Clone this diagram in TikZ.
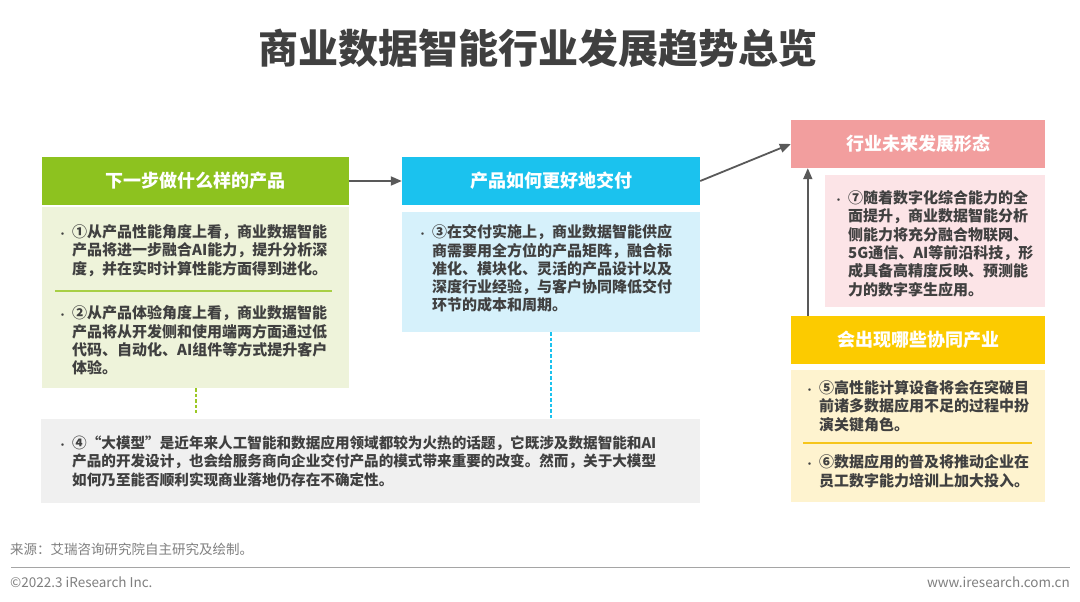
\documentclass[tikz,border=0pt]{standalone}
\usepackage{fontspec}
\setmainfont{Noto Sans CJK SC}
\usetikzlibrary{arrows.meta}
\definecolor{txt}{HTML}{404040}
\definecolor{grnH}{HTML}{8DC21F}
\definecolor{grnB}{HTML}{EEF3DA}
\definecolor{grnL}{HTML}{A8CF45}
\definecolor{grnD}{HTML}{9CC825}
\definecolor{cyaH}{HTML}{1BC2EE}
\definecolor{cyaB}{HTML}{D6F1FB}
\definecolor{pnkH}{HTML}{F29E9E}
\definecolor{pnkB}{HTML}{FCE4E7}
\definecolor{ylwH}{HTML}{FCCB00}
\definecolor{ylwB}{HTML}{FEF3CF}
\definecolor{ylwL}{HTML}{F6C51A}
\definecolor{gryB}{HTML}{F0F0F0}
\definecolor{arrC}{HTML}{595959}
\definecolor{ftC}{HTML}{7F7F7F}
\newcommand\bul{\makebox[0pt][r]{{\fontsize{9}{9}\selectfont •}\hspace{5pt}}}
\begin{document}
\begin{tikzpicture}[x=1pt,y=-1pt,
  hdr/.style={draw=none,inner sep=0pt,font=\fontsize{18}{18}\selectfont\bfseries,text=white},
  bodybox/.style={draw=none,inner sep=0pt},
  bodytext/.style={anchor=north west,inner sep=0pt,align=left,text=txt,font=\fontsize{15}{18.3}\selectfont\bfseries},
  arr/.style={draw=arrC,line width=1.8pt,-{Triangle[length=11pt,width=9pt]}},
  foot/.style={inner sep=0pt,text=ftC,font=\fontsize{13.5}{13.5}\selectfont}]
\useasboundingbox (0,0) rectangle (1080,602);
\fill[white] (0,0) rectangle (1080,602);
% title
\node[inner sep=0pt,text=txt,font=\fontsize{40}{40}\selectfont\bfseries] (title) at (538,48) {商业数据智能行业发展趋势总览};
% box 1
\node[hdr,fill=grnH,minimum width=307pt,minimum height=48pt] (h1) at (195.5,181) {下一步做什么样的产品};
\node[bodybox,fill=grnB,minimum width=307pt,minimum height=181pt] (b1) at (195.5,297.5) {};
\node[bodytext] (t1a) at (72,224.5) {\bul ①从产品性能角度上看，商业数据智能\\产品将进一步融合AI能力，提升分析深\\度，并在实时计算性能方面得到进化。};
\draw[grnL,line width=1.3pt] (55,291) -- (332,291);
\node[bodytext] (t1b) at (72,305.5) {\bul ②从产品体验角度上看，商业数据智能\\产品将从开发侧和使用端两方面通过低\\代码、自动化、AI组件等方式提升客户\\体验。};
% box 2
\node[hdr,fill=cyaH,minimum width=298pt,minimum height=48pt] (h2) at (551,181) {产品如何更好地交付};
\node[bodybox,fill=cyaB,minimum width=298pt,minimum height=120pt] (b2) at (551,272) {};
\node[bodytext] (t2) at (432,224.5) {\bul ③在交付实施上，商业数据智能供应\\商需要用全方位的产品矩阵，融合标\\准化、模块化、灵活的产品设计以及\\深度行业经验，与客户协同降低交付\\环节的成本和周期。};
% pink
\node[hdr,fill=pnkH,minimum width=254pt,minimum height=48pt] (h3) at (918,144) {行业未来发展形态};
\node[bodybox,fill=pnkB,minimum width=220pt,minimum height=132pt] (b3) at (935,241) {};
\node[bodytext] (t3) at (848,190.5) {\bul ⑦随着数字化综合能力的全\\面提升，商业数据智能分析\\侧能力将充分融合物联网、\\5G通信、AI等前沿科技，形\\成具备高精度反映、预测能\\力的数字孪生应用。};
% yellow
\node[hdr,fill=ylwH,minimum width=254pt,minimum height=48pt] (h4) at (918,340) {会出现哪些协同产业};
\node[bodybox,fill=ylwB,minimum width=254pt,minimum height=132pt] (b4) at (918,436) {};
\node[bodytext] (t4a) at (819,380.5) {\bul ⑤高性能计算设备将会在突破目\\前诸多数据应用不足的过程中扮\\演关键角色。};
\draw[ylwL,line width=1.3pt] (803,443) -- (1032,443);
\node[bodytext] (t4b) at (819,454.5) {\bul ⑥数据应用的普及将推动企业在\\员工数字能力培训上加大投入。};
% gray
\node[bodybox,fill=gryB,minimum width=659pt,minimum height=84pt] (g) at (370.5,461) {};
\node[bodytext,font=\fontsize{14.6}{18.5}\selectfont\bfseries] (tg) at (72,435.5) {\bul ④“大模型”是近年来人工智能和数据应用领域都较为火热的话题，它既涉及数据智能和AI\\产品的开发设计，也会给服务商向企业交付产品的模式带来重要的改变。然而，关于大模型\\如何乃至能否顺利实现商业落地仍存在不确定性。};
% connectors
\draw[arr] (h1.east) -- (h2.west);
\draw[arr] (h2.east) -- (h3.west);
\draw[arr] ([xshift=17pt]h4.north west) -- ([xshift=17pt]h3.south west);
\draw[grnD,line width=2pt,dash pattern=on 3.5pt off 2pt,shorten >=6pt] (b1.south) -- (b1.south |- g.north);
\draw[cyaH,line width=1.8pt,dash pattern=on 3.5pt off 2pt] (b2.south) -- (b2.south |- g.north);
% footer
\node[foot,anchor=west] (src) at (10,549) {来源：艾瑞咨询研究院自主研究及绘制。};
\coordinate (la) at (11,567);
\coordinate (lb) at (1070,567);
\draw[draw=ftC!70,line width=1pt] (la) -- (lb);
\node[foot,anchor=west] (cp) at (10,582) {©2022.3 iResearch Inc.};
\node[foot,anchor=east] (url) at (1070,582) {www.iresearch.com.cn};
\end{tikzpicture}
\end{document}
